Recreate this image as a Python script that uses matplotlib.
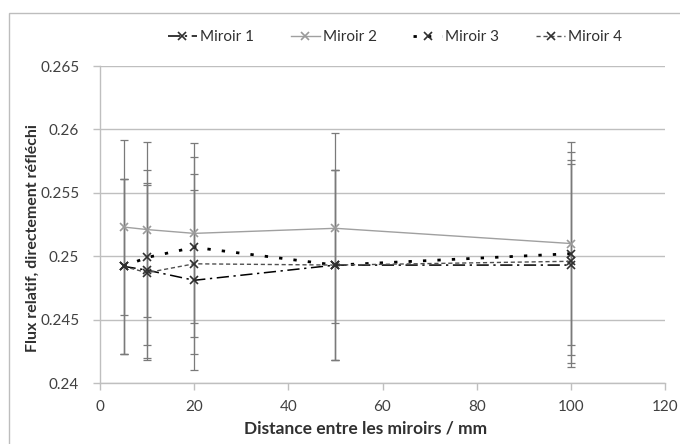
import matplotlib
matplotlib.use("Agg")
import matplotlib.pyplot as plt
from matplotlib.patches import Rectangle

plt.rcParams["font.family"] = ["Lato", "DejaVu Sans"]

distance = [5, 10, 20, 50, 100]
miroir1 = [0.2492, 0.2489, 0.2481, 0.2493, 0.2493]
miroir2 = [0.2523, 0.2521, 0.2518, 0.2522, 0.2510]
miroir3 = [0.2492, 0.2499, 0.2507, 0.2493, 0.2502]
miroir4 = [0.2492, 0.2487, 0.2494, 0.2493, 0.2496]
erreur = [0.0069, 0.0069, 0.0071, 0.0075, 0.0080]

GRID = "#bfbfbf"
fig = plt.figure(figsize=(6.8, 4.44), dpi=100)
ax = fig.add_axes([100 / 680, 1 - 383 / 444, 565 / 680, 317 / 444])

# chart-area frame
fig.patches.append(Rectangle((9 / 680, -0.1), 1.2, 1.1 - 13 / 444,
                             transform=fig.transFigure, fill=False,
                             edgecolor="#bdbdbd", lw=1.0))

styles = [
    ("Miroir 1", miroir1, dict(color="black", ls=(0, (8, 3, 1.5, 3)), lw=1.1)),
    ("Miroir 2", miroir2, dict(color="#a0a0a0", ls="-", lw=1.0)),
    ("Miroir 3", miroir3, dict(color="black", ls=(0, (1.2, 4)), lw=2.0)),
    ("Miroir 4", miroir4, dict(color="#505050", ls=(0, (3, 2)), lw=1.0)),
]
for label, vals, st in styles:
    ax.errorbar(distance, vals, yerr=erreur, fmt="none", ecolor="#7a7a7a",
                elinewidth=0.9, capsize=3, capthick=0.9, zorder=2)
for label, vals, st in styles:
    mcol = "#9a9a9a" if label == "Miroir 2" else "#303030"
    ax.plot(distance, vals, marker="x", ms=6, mew=1.2, mec=mcol,
            label=label, zorder=3, **st)

ax.set_xlim(0, 120)
ax.set_ylim(0.24, 0.265)
ax.set_xticks(range(0, 121, 20))
ax.set_yticks([0.24, 0.245, 0.25, 0.255, 0.26, 0.265])
ax.set_yticklabels(["0.24", "0.245", "0.25", "0.255", "0.26", "0.265"])
ax.yaxis.grid(True, color=GRID, lw=1.0)
ax.set_axisbelow(True)
for s in ("top", "right"):
    ax.spines[s].set_visible(False)
for s in ("left", "bottom"):
    ax.spines[s].set_color(GRID)
    ax.spines[s].set_linewidth(1.0)
ax.tick_params(colors=GRID, labelcolor="#404040", labelsize=11, length=5,
               width=1.0)
ax.tick_params(axis="x", pad=7)
ax.tick_params(axis="y", pad=10)

# axis titles placed as in the original (slightly off-centre)
fig.text(366 / 680, 1 - 428 / 444, "Distance entre les miroirs / mm",
         fontsize=12.5, fontweight="bold", color="#303030",
         ha="center", va="center")
fig.text(33 / 680, 1 - 238 / 444, "Flux relatif, directement réfléchi",
         fontsize=11.5, fontweight="bold", color="#303030", rotation=90,
         ha="center", va="center")

fig.legend(loc="center", bbox_to_anchor=(395 / 680, 1 - 37 / 444), ncol=4,
           frameon=False, fontsize=11, handlelength=1.9,
           columnspacing=2.4, handletextpad=0.2, labelcolor="#303030")

fig.savefig("out.png", dpi=100)
